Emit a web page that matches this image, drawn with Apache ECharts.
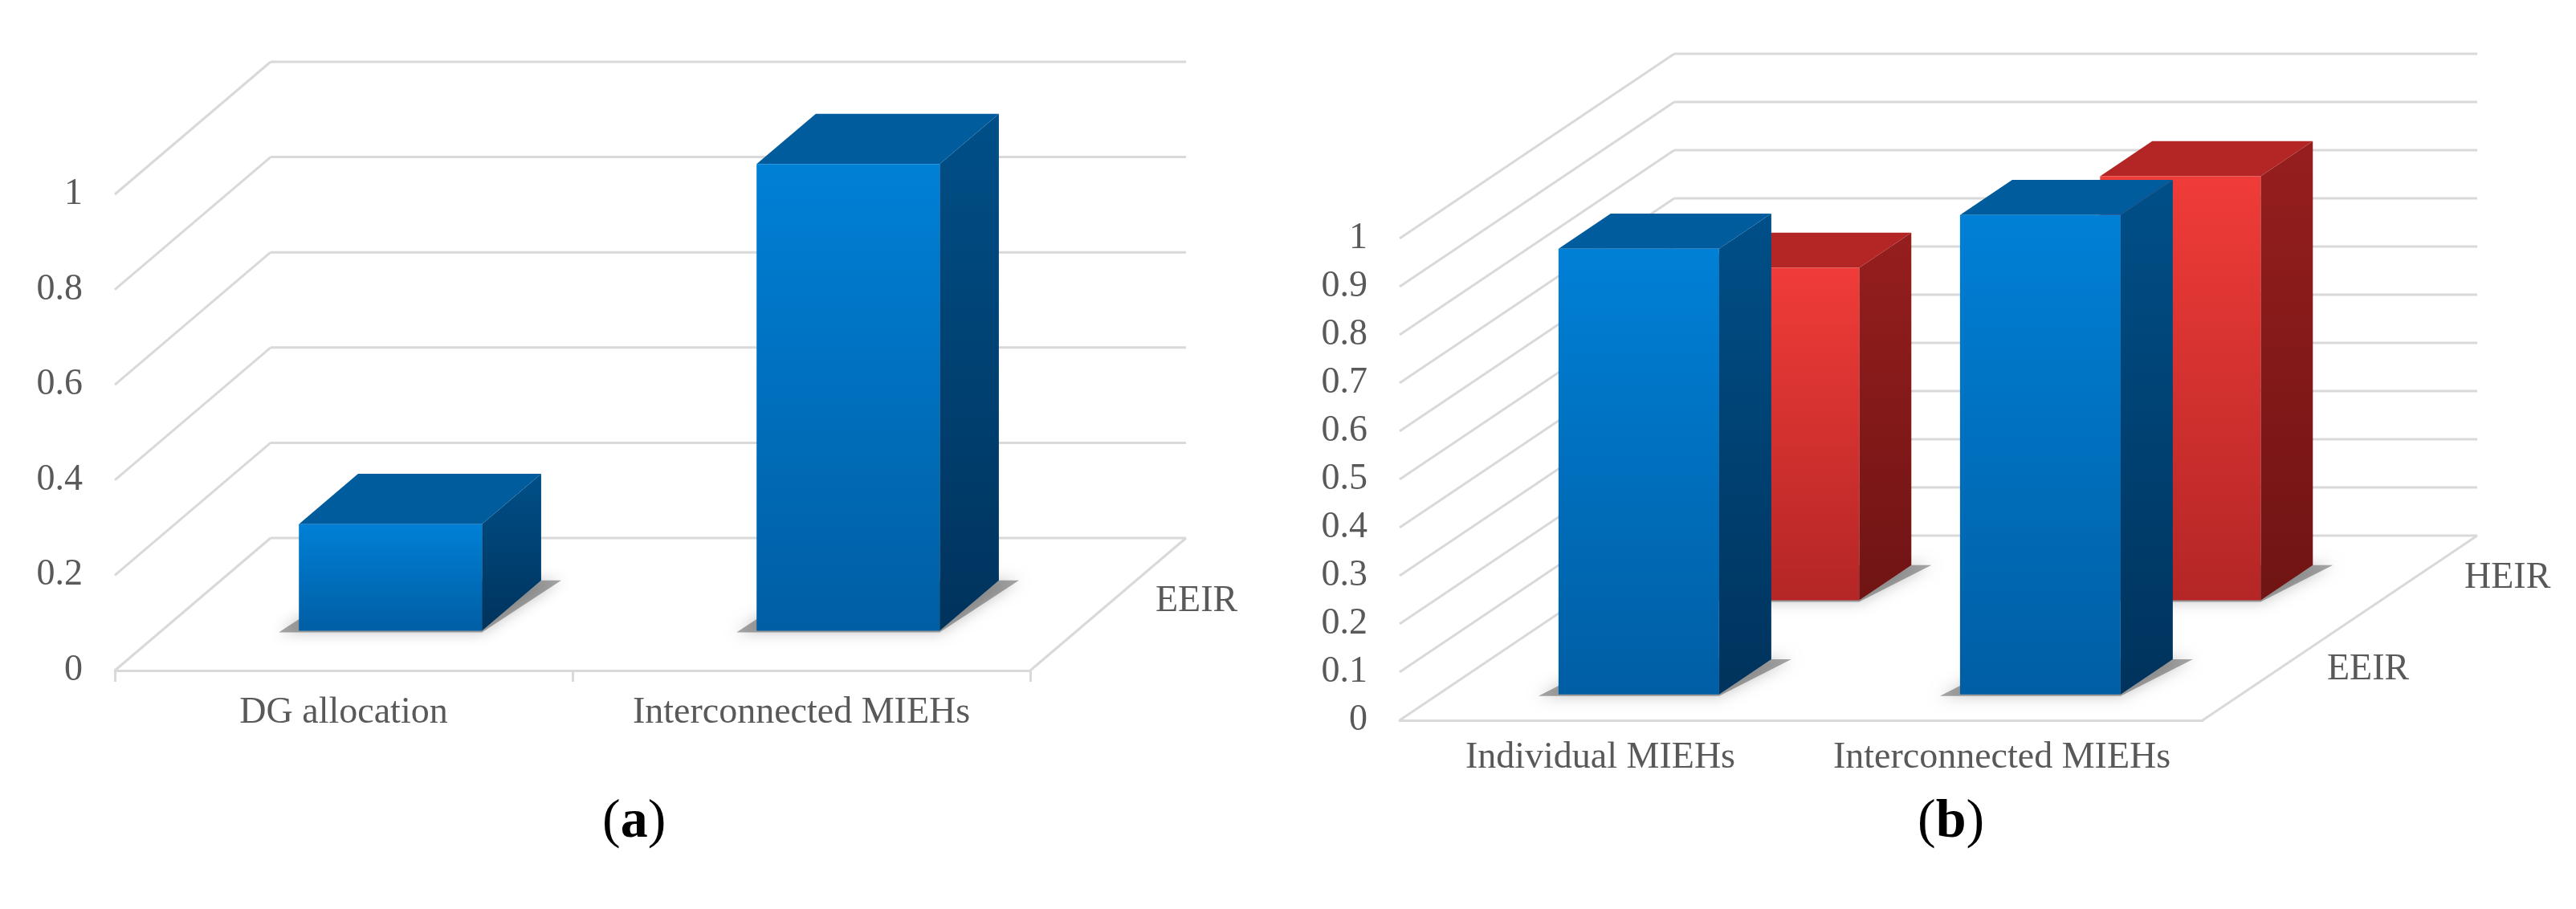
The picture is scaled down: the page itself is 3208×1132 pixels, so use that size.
<!DOCTYPE html>
<html><head><meta charset="utf-8">
<script src="https://cdn.jsdelivr.net/npm/echarts@6/dist/echarts.min.js"></script>
<style>html,body{margin:0;padding:0;background:#fff}#c{width:3208px;height:1132px}</style>
</head><body><div id="c"></div>
<script>
// ---- data ----
const catsA = ['DG allocation', 'Interconnected MIEHs'];
const eeirA = [0.224, 0.98];
const catsB = ['Individual MIEHs', 'Interconnected MIEHs'];
const eeirB = [0.925, 0.995];
const heirB = [0.69, 0.88];
const rowsA = ['EEIR'];
const rowsB = ['EEIR', 'HEIR'];
const panelLabels = ['a', 'b'];

// ---- style ----
const FONT = '"Liberation Serif", "Times New Roman", serif';
const TXT = '#595959';
const GRIDC = '#d9d9d9';
const DA = [194, -165], DB = [342, -230];
const depthA = [[0.30, 0.68]];
const depthB = [[0.14, 0.33], [0.65, 0.84]];
const BLUE = {front: ['#0080d6', '#005ea4'], top: '#005c9c', side: ['#004f88', '#00335c']};
const RED = {front: ['#f03c38', '#b42626'], top: '#b42626', side: ['#961e1e', '#701414']};

const chart = echarts.init(document.getElementById('c'));

function frameItem(D) {
  return function (params, api) {
    const cs = params.coordSys;
    const v = api.value(0);
    const y = api.coord([0, v])[1];
    const ls = {stroke: GRIDC, lineWidth: 3};
    const ch = [
      {type: 'line', shape: {x1: cs.x, y1: y, x2: cs.x + D[0], y2: y + D[1]}, style: ls},
      {type: 'line', shape: {x1: cs.x + D[0], y1: y + D[1], x2: cs.x + cs.width + D[0], y2: y + D[1]}, style: ls}
    ];
    if (v === 0) {
      ch.push({type: 'line', shape: {x1: cs.x + cs.width, y1: y, x2: cs.x + cs.width + D[0], y2: y + D[1]}, style: ls});
    }
    return {type: 'group', children: ch};
  };
}

function barItem(D, depths, col) {
  return function (params, api) {
    const cat = api.value(0), val = api.value(1), row = api.value(2);
    const c0 = api.coord([cat, 0]), c1 = api.coord([cat, val]);
    const w = api.size([1, 0])[0] * 0.4;
    const f1 = depths[row][0], f2 = depths[row][1];
    const o1 = [D[0] * f1, D[1] * f1], o2 = [D[0] * f2, D[1] * f2];
    const x0 = c0[0] - w / 2, x1 = c0[0] + w / 2;
    const yb1 = c0[1] + o1[1], yb2 = c0[1] + o2[1];
    const yt1 = c1[1] + o1[1], yt2 = c1[1] + o2[1];
    const lg = (a, b) => new echarts.graphic.LinearGradient(0, 0, 0, 1, [{offset: 0, color: a}, {offset: 1, color: b}]);
    return {type: 'group', children: [
      {type: 'polygon', shape: {points: [[x0 + o1[0] - 25, yb1 + 2], [x1 + o1[0], yb1 + 2], [x1 + o2[0] + 25, yb2], [x0 + o2[0], yb2]]},
        style: {fill: 'rgba(60,60,60,0.45)', shadowBlur: 18, shadowColor: 'rgba(0,0,0,0.5)'}},
      {type: 'polygon', shape: {points: [[x1 + o1[0], yt1], [x1 + o2[0], yt2], [x1 + o2[0], yb2], [x1 + o1[0], yb1]]},
        style: {fill: lg(col.side[0], col.side[1])}},
      {type: 'polygon', shape: {points: [[x0 + o1[0], yt1], [x1 + o1[0], yt1], [x1 + o2[0], yt2], [x0 + o2[0], yt2]]},
        style: {fill: col.top}},
      {type: 'rect', shape: {x: x0 + o1[0], y: yt1, width: w, height: yb1 - yt1},
        style: {fill: lg(col.front[0], col.front[1])}}
    ]};
  };
}

const ticksA = [0, 0.2, 0.4, 0.6, 0.8, 1];
const ticksB = [0, 0.1, 0.2, 0.3, 0.4, 0.5, 0.6, 0.7, 0.8, 0.9, 1];

const axisLbl = {color: TXT, fontFamily: FONT, fontSize: 46, interval: 0};

chart.setOption({
  animation: false,
  grid: [
    {left: 143, width: 1140, top: 242, height: 593},
    {left: 1743, width: 1000, top: 297, height: 600}
  ],
  xAxis: [
    {type: 'category', gridIndex: 0, data: catsA,
      axisLine: {lineStyle: {color: GRIDC, width: 3}},
      axisTick: {show: true, length: 14, lineStyle: {color: GRIDC, width: 3}},
      axisLabel: Object.assign({margin: 30}, axisLbl)},
    {type: 'category', gridIndex: 1, data: catsB,
      axisLine: {lineStyle: {color: GRIDC, width: 3}},
      axisTick: {show: false},
      axisLabel: Object.assign({margin: 24}, axisLbl)}
  ],
  yAxis: [
    {type: 'value', gridIndex: 0, min: 0, max: 1, interval: 0.2,
      axisLine: {show: false}, axisTick: {show: false}, splitLine: {show: false},
      axisLabel: Object.assign({margin: 40}, axisLbl)},
    {type: 'value', gridIndex: 1, min: 0, max: 1, interval: 0.1,
      axisLine: {show: false}, axisTick: {show: false}, splitLine: {show: false},
      axisLabel: Object.assign({margin: 40}, axisLbl)}
  ],
  series: [
    {type: 'custom', xAxisIndex: 0, yAxisIndex: 0, clip: false, silent: true,
      data: ticksA.map(v => [v]), encode: {y: 0}, renderItem: frameItem(DA)},
    {type: 'custom', xAxisIndex: 1, yAxisIndex: 1, clip: false, silent: true,
      data: ticksB.map(v => [v]), encode: {y: 0}, renderItem: frameItem(DB)},
    {type: 'custom', name: rowsA[0], xAxisIndex: 0, yAxisIndex: 0, clip: false,
      data: eeirA.map((v, i) => [i, v, 0]), encode: {x: 0, y: 1}, renderItem: barItem(DA, depthA, BLUE)},
    {type: 'custom', name: rowsB[1], xAxisIndex: 1, yAxisIndex: 1, clip: false,
      data: heirB.map((v, i) => [i, v, 1]), encode: {x: 0, y: 1}, renderItem: barItem(DB, depthB, RED)},
    {type: 'custom', name: rowsB[0], xAxisIndex: 1, yAxisIndex: 1, clip: false,
      data: eeirB.map((v, i) => [i, v, 0]), encode: {x: 0, y: 1}, renderItem: barItem(DB, depthB, BLUE)}
  ],
  graphic: [
    {type: 'text', left: 1439, top: 726, style: {text: rowsA[0], fill: TXT, font: '46px ' + FONT}},
    {type: 'text', left: 2898, top: 811, style: {text: rowsB[0], fill: TXT, font: '46px ' + FONT}},
    {type: 'text', left: 3069, top: 697, style: {text: rowsB[1], fill: TXT, font: '46px ' + FONT}},
    {type: 'text', left: 750, top: 990, style: {text: '{n|(}{b|' + panelLabels[0] + '}{n|)}',
      rich: {n: {fontFamily: FONT, fontSize: 68, fill: '#000'}, b: {fontFamily: FONT, fontSize: 68, fontWeight: 'bold', fill: '#000'}}}},
    {type: 'text', left: 2388, top: 990, style: {text: '{n|(}{b|' + panelLabels[1] + '}{n|)}',
      rich: {n: {fontFamily: FONT, fontSize: 68, fill: '#000'}, b: {fontFamily: FONT, fontSize: 68, fontWeight: 'bold', fill: '#000'}}}}
  ]
});
</script></body></html>
